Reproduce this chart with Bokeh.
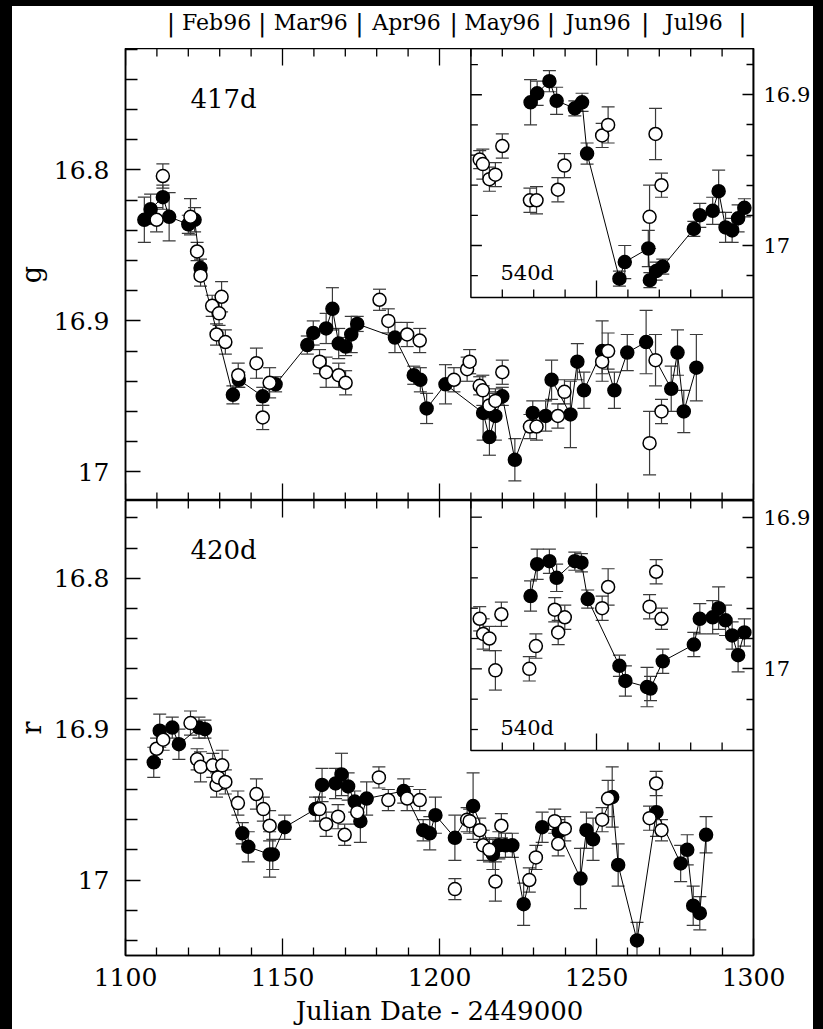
import numpy as np
from bokeh.plotting import figure
from bokeh.models import (Range1d, LinearAxis, FixedTicker, Whisker, ColumnDataSource,
                          BoxAnnotation, Label, TeeHead, PrintfTickFormatter)
from bokeh.layouts import column
from bokeh.embed import file_html
from bokeh.resources import INLINE
from bokeh.core.properties import value

# ---------------- data ----------------
months = ["Feb96", "Mar96", "Apr96", "May96", "Jun96", "Jul96"]
month_edges = [1114.5, 1143.5, 1174.5, 1204.5, 1235.5, 1265.5, 1296.5]

# g band: image B (filled), shifted by 417 d
gB_jd = [1106.0, 1108.0, 1111.9, 1113.9, 1120.0, 1122.0, 1123.9, 1134.2, 1136.1, 1143.7,
         1147.8, 1157.9, 1159.8, 1163.9, 1165.9, 1167.9, 1170.1, 1171.9, 1173.8, 1185.8,
         1191.8, 1193.9, 1195.9, 1201.9, 1213.9, 1215.9, 1217.8, 1220.0, 1224.0, 1229.7,
         1233.8, 1235.7, 1241.7, 1243.9, 1246.0, 1251.8, 1255.7, 1259.8, 1265.8, 1273.8,
         1275.8, 1277.8, 1281.8]
gB_mag = [16.833, 16.826, 16.818, 16.831, 16.836, 16.833, 16.865, 16.949, 16.939, 16.950,
          16.942, 16.916, 16.908, 16.905, 16.892, 16.915, 16.917, 16.909, 16.902, 16.911,
          16.936, 16.939, 16.958, 16.942, 16.961, 16.977, 16.963, 16.950, 16.992, 16.961,
          16.963, 16.939, 16.962, 16.927, 16.946, 16.920, 16.946, 16.921, 16.914, 16.945,
          16.921, 16.960, 16.931]
gB_err = [0.015, 0.010, 0.008, 0.016, 0.006, 0.008, 0.006, 0.006, 0.005, 0.006,
          0.005, 0.006, 0.008, 0.010, 0.014, 0.010, 0.006, 0.012, 0.005, 0.010,
          0.006, 0.008, 0.010, 0.013, 0.018, 0.012, 0.016, 0.006, 0.014, 0.008,
          0.010, 0.013, 0.022, 0.012, 0.012, 0.020, 0.012, 0.012, 0.021, 0.015,
          0.015, 0.014, 0.022]

# g band: image A (open)
gA_jd = [1109.9, 1111.9, 1120.7, 1122.8, 1123.9, 1127.6, 1129.0, 1129.8, 1130.6, 1131.8,
         1135.9, 1141.7, 1143.7, 1145.9, 1161.8, 1163.9, 1167.9, 1170.1, 1180.9, 1183.7,
         1189.7, 1193.7, 1204.6, 1208.8, 1209.6, 1212.8, 1213.8, 1215.9, 1217.8, 1220.0,
         1228.8, 1230.9, 1237.7, 1239.8, 1251.8, 1253.7, 1266.9, 1268.8, 1270.7]
gA_mag = [16.833, 16.804, 16.831, 16.854, 16.870, 16.890, 16.909, 16.895, 16.884, 16.914,
          16.936, 16.928, 16.964, 16.941, 16.927, 16.934, 16.936, 16.941, 16.886, 16.900,
          16.909, 16.913, 16.939, 16.932, 16.927, 16.943, 16.946, 16.956, 16.953, 16.934,
          16.970, 16.970, 16.963, 16.947, 16.927, 16.920, 16.981, 16.926, 16.960]
gA_err = [0.008, 0.008, 0.012, 0.006, 0.007, 0.007, 0.007, 0.008, 0.010, 0.008,
          0.008, 0.010, 0.008, 0.010, 0.008, 0.010, 0.008, 0.008, 0.007, 0.008,
          0.008, 0.008, 0.008, 0.008, 0.008, 0.006, 0.010, 0.008, 0.008, 0.008,
          0.008, 0.009, 0.008, 0.008, 0.008, 0.012, 0.021, 0.017, 0.008]

# g band inset: image B shifted by 540 d
gB540_jd = [1229.0, 1231.1, 1235.0, 1237.3, 1243.1, 1245.4, 1247.0, 1257.3, 1259.0, 1266.5,
            1267.0, 1269.0, 1271.1, 1281.0, 1282.9, 1287.0, 1288.9, 1291.1, 1293.2, 1295.1,
            1297.1]
gB540_mag = [16.905, 16.899, 16.891, 16.904, 16.909, 16.905, 16.939, 17.022, 17.011, 17.002,
             17.023, 17.017, 17.014, 16.989, 16.980, 16.977, 16.964, 16.988, 16.990, 16.982,
             16.975]
gB540_err = [0.015, 0.008, 0.007, 0.009, 0.005, 0.006, 0.007, 0.005, 0.011, 0.012,
             0.005, 0.006, 0.005, 0.005, 0.008, 0.009, 0.014, 0.010, 0.008, 0.009,
             0.006]

# r band: image B (filled), shifted by 420 d
rB_jd = [1109.0, 1110.9, 1114.9, 1117.0, 1123.4, 1125.3, 1137.2, 1139.1, 1145.9, 1146.9,
         1150.7, 1160.5, 1162.6, 1166.9, 1168.8, 1170.9, 1173.0, 1174.8, 1176.8, 1188.6,
         1194.8, 1196.9, 1198.7, 1204.9, 1210.7, 1217.0, 1218.9, 1221.0, 1223.2, 1226.8,
         1232.7, 1238.0, 1244.9, 1246.8, 1248.9, 1255.0, 1256.9, 1262.9, 1269.1, 1276.8,
         1278.9, 1280.8, 1282.9, 1284.9]
rB_mag = [16.922, 16.901, 16.899, 16.910, 16.899, 16.900, 16.969, 16.978, 16.983, 16.983,
          16.965, 16.953, 16.937, 16.936, 16.930, 16.938, 16.948, 16.961, 16.946, 16.941,
          16.967, 16.969, 16.957, 16.972, 16.951, 16.983, 16.977, 16.977, 16.977, 17.016,
          16.965, 16.968, 16.999, 16.967, 16.973, 16.945, 16.990, 17.040, 16.955, 16.989,
          16.980, 17.017, 17.022, 16.970]
rB_err = [0.010, 0.011, 0.007, 0.010, 0.007, 0.006, 0.007, 0.010, 0.015, 0.010,
          0.008, 0.008, 0.011, 0.010, 0.014, 0.009, 0.007, 0.014, 0.011, 0.008,
          0.007, 0.011, 0.012, 0.015, 0.022, 0.010, 0.009, 0.008, 0.008, 0.014,
          0.010, 0.008, 0.020, 0.012, 0.014, 0.020, 0.014, 0.012, 0.016, 0.012,
          0.010, 0.013, 0.011, 0.012]

# r band: image A (open)
rA_jd = [1109.9, 1112.0, 1120.7, 1122.8, 1123.9, 1127.8, 1129.0, 1129.5, 1130.8, 1131.8,
         1135.8, 1141.7, 1143.9, 1145.9, 1161.8, 1163.9, 1167.7, 1169.8, 1173.8, 1180.7,
         1183.7, 1189.7, 1193.7, 1204.9, 1208.8, 1209.6, 1212.8, 1213.9, 1215.9, 1217.8,
         1219.7, 1228.6, 1230.7, 1236.7, 1237.8, 1239.9, 1251.8, 1253.7, 1266.9, 1269.0,
         1270.7]
rA_mag = [16.913, 16.907, 16.896, 16.920, 16.925, 16.924, 16.937, 16.932, 16.924, 16.935,
          16.949, 16.943, 16.953, 16.964, 16.953, 16.963, 16.958, 16.970, 16.955, 16.932,
          16.947, 16.946, 16.947, 17.006, 16.960, 16.961, 16.967, 16.977, 16.980, 17.001,
          16.964, 17.000, 16.985, 16.961, 16.976, 16.966, 16.960, 16.946, 16.959, 16.936,
          16.967]
rA_err = [0.007, 0.007, 0.008, 0.007, 0.010, 0.008, 0.008, 0.008, 0.010, 0.008,
          0.008, 0.010, 0.008, 0.010, 0.008, 0.008, 0.008, 0.007, 0.008, 0.007,
          0.007, 0.008, 0.007, 0.007, 0.008, 0.008, 0.008, 0.010, 0.008, 0.013,
          0.008, 0.008, 0.008, 0.008, 0.008, 0.008, 0.008, 0.012, 0.008, 0.008,
          0.007]

# r band inset: image B shifted by 540 d
rB540_jd = [1229.0, 1231.1, 1235.0, 1237.3, 1243.1, 1245.2, 1247.2, 1257.3, 1259.2, 1266.1,
            1267.2, 1271.1, 1281.0, 1282.9, 1287.0, 1288.9, 1291.1, 1293.2, 1295.1, 1297.1]
rB540_mag = [16.952, 16.931, 16.929, 16.940, 16.929, 16.930, 16.954, 16.998, 17.008, 17.012,
             17.013, 16.995, 16.984, 16.967, 16.966, 16.960, 16.968, 16.978, 16.991, 16.976]
rB540_err = [0.010, 0.010, 0.008, 0.009, 0.006, 0.006, 0.006, 0.007, 0.010, 0.013,
             0.008, 0.008, 0.008, 0.010, 0.011, 0.014, 0.010, 0.009, 0.011, 0.009]

x_major = [1100, 1150, 1200, 1250, 1300]
x_minor = [t for t in range(1100, 1301, 10) if t % 50 != 0]
y_major = [16.8, 16.9, 17.0]
inset_x0 = 1210

# ---------------- style ----------------
FONT = "DejaVu Serif"
FW = 628
LB = 113
ERR = "#3a3a3a"
xr = Range1d(1100, 1300)


def style_axis(ax, major_in, minor_in, size, standoff):
    ax.axis_line_color = "black"
    ax.axis_line_width = 1.5
    ax.major_tick_in = major_in
    ax.major_tick_out = 0
    ax.minor_tick_in = minor_in
    ax.minor_tick_out = 0
    ax.major_tick_line_color = "black"
    ax.minor_tick_line_color = "black"
    ax.major_tick_line_width = 1.3
    ax.minor_tick_line_width = 1.3
    ax.major_label_text_font = FONT
    ax.major_label_text_color = "black"
    ax.major_label_standoff = standoff
    ax.major_label_text_font_size = size


def add_series(p, jd, mag, err, filled, rng="default", connect=False):
    src = ColumnDataSource(dict(x=jd, y=mag,
                                lo=[m - e for m, e in zip(mag, err)],
                                hi=[m + e for m, e in zip(mag, err)]))
    p.add_layout(Whisker(source=src, base="x", lower="lo", upper="hi", dimension="height",
                         line_color=ERR, line_width=1.2, y_range_name=rng,
                         lower_head=TeeHead(size=13, line_color=ERR, line_width=1.2),
                         upper_head=TeeHead(size=13, line_color=ERR, line_width=1.2)))
    if connect:
        p.line("x", "y", source=src, line_color="black", line_width=1, y_range_name=rng)
    p.scatter("x", "y", source=src, size=13, marker="circle",
              fill_color="black" if filled else "white",
              line_color="black", line_width=1.5, y_range_name=rng)


def edge_ticks(p, y_edge, direction, px_mag):
    # ticks of the x scale drawn on a horizontal frame edge (no labels)
    tx = x_major + x_minor
    p.segment(x0=tx, y0=[y_edge] * len(tx), x1=tx,
              y1=[y_edge + direction * (17 if t in x_major else 8) / px_mag for t in tx],
              line_color="black", line_width=1.3)


def panel(ybot, ytop, ins_bot, ins_top, ins_box_bot, frame_h, B, A, B540,
          ylab, delay_txt, delay_pos, ins_lbl_pos, xlabels):
    p = figure(frame_width=FW, frame_height=frame_h, x_range=xr,
               y_range=Range1d(ybot, ytop), output_backend="svg", toolbar_location=None,
               x_axis_location=("below" if xlabels else None),
               min_border_left=LB, min_border_right=60, min_border_top=0,
               min_border_bottom=(74 if xlabels else 0),
               background_fill_color="white", border_fill_color="white",
               outline_line_color="black", outline_line_width=1.5)
    p.extra_y_ranges = {"inset": Range1d(ins_bot, ins_top)}
    p.grid.visible = False
    px_main = frame_h / (ybot - ytop)

    if xlabels:
        xa = p.xaxis[0]
        xa.ticker = FixedTicker(ticks=x_major, minor_ticks=x_minor)
        style_axis(xa, 17, 8, "25px", 12)
        xa.axis_label = "Julian Date - 2449000"
        xa.axis_label_text_font = FONT
        xa.axis_label_text_font_size = "26px"
        xa.axis_label_text_font_style = "normal"
        xa.axis_label_text_color = "black"
        xa.axis_label_standoff = 7
    else:
        edge_ticks(p, ybot, -1, px_main)
    edge_ticks(p, ytop, +1, px_main)

    # left axis
    ya = p.yaxis[0]
    ym = [v for v in np.round(np.arange(16.70, 17.08, 0.02), 2)
          if ytop <= v <= ybot and v not in y_major]
    ya.ticker = FixedTicker(ticks=y_major, minor_ticks=ym)
    ya.formatter = PrintfTickFormatter(format="%g")
    style_axis(ya, 15, 12, "25px", 16)
    ya.axis_label = ylab
    ya.axis_label_text_font = FONT
    ya.axis_label_text_font_size = "27px"
    ya.axis_label_text_font_style = "normal"
    ya.axis_label_text_color = "black"
    ya.axis_label_standoff = 4

    # inset: right axis
    im = [v for v in np.round(np.arange(16.86, 17.08, 0.02), 2)
          if ins_top < v < ins_box_bot and v not in y_major]
    ra = LinearAxis(y_range_name="inset",
                    ticker=FixedTicker(ticks=[16.9, 17.0], minor_ticks=im),
                    formatter=PrintfTickFormatter(format="%g"))
    style_axis(ra, 11, 7, "21px", 10)
    p.add_layout(ra, "right")

    # inset frame
    p.add_layout(BoxAnnotation(left=inset_x0, bottom=ins_box_bot, y_range_name="inset",
                               fill_alpha=0, line_color="black", line_alpha=1.0,
                               line_width=1.5))
    # inset inner ticks (left and bottom edges of the inset box)
    px_day = FW / (xr.end - xr.start)
    px_mag = frame_h / (ins_bot - ins_top)
    tx = [t for t in x_major + x_minor if inset_x0 < t < xr.end]
    p.segment(x0=tx, y0=[ins_box_bot] * len(tx), x1=tx,
              y1=[ins_box_bot - (17 if t in x_major else 8) / px_mag for t in tx],
              line_color="black", line_width=1.3, y_range_name="inset")
    ty = [16.9, 17.0] + im
    p.segment(x0=[inset_x0] * len(ty), y0=ty,
              x1=[inset_x0 + (11 if v in (16.9, 17.0) else 7) / px_day for v in ty], y1=ty,
              line_color="black", line_width=1.3, y_range_name="inset")

    # data
    add_series(p, *B, filled=True, connect=True)
    add_series(p, *A, filled=False)
    add_series(p, *B540, filled=True, rng="inset", connect=True)
    Ain = [i for i, t in enumerate(A[0]) if t > inset_x0]
    add_series(p, [A[0][i] for i in Ain], [A[1][i] for i in Ain], [A[2][i] for i in Ain],
               filled=False, rng="inset")

    p.add_layout(Label(x=delay_pos[0], y=delay_pos[1], text=delay_txt, text_font=FONT,
                       text_font_size="26px", text_baseline="middle", text_align="left",
                       text_color="black"))
    p.add_layout(Label(x=ins_lbl_pos[0], y=ins_lbl_pos[1], text="540d", text_font=FONT,
                       text_font_size="21px", text_baseline="middle", text_align="left",
                       text_color="black", y_range_name="inset"))
    return p


# header with the months
HH = 42
hdr = figure(frame_width=FW, frame_height=HH, x_range=xr, y_range=Range1d(0, 1),
             output_backend="svg", toolbar_location=None, min_border_left=LB,
             min_border_right=60, min_border_top=0, min_border_bottom=0,
             x_axis_location=None, y_axis_location=None, outline_line_color=None,
             background_fill_color="white", border_fill_color="white")
hdr.grid.visible = False
mids = [(a + b) / 2 for a, b in zip(month_edges[:-1], month_edges[1:])]
hdr.text(x=mids, y=[0.62] * len(mids), text=months, text_font=value(FONT),
         text_font_size=value("22px"), text_align="center", text_baseline="middle",
         text_color="black")
hdr.text(x=month_edges, y=[0.62] * len(month_edges), text=["|"] * len(month_edges),
         text_font=value(FONT), text_font_size=value("25px"), text_align="center",
         text_baseline="middle", text_color="black")

top = panel(17.019, 16.7195, 17.1692, 16.8693, 17.0345, 452,
            (gB_jd, gB_mag, gB_err), (gA_jd, gA_mag, gA_err), (gB540_jd, gB540_mag, gB540_err),
            "g", "417d", (1120.7, 16.753), (1219.4, 17.018), False)
bot = panel(17.05, 16.7485, 17.189, 16.889, 17.0539, 455,
            (rB_jd, rB_mag, rB_err), (rA_jd, rA_mag, rA_err), (rB540_jd, rB540_mag, rB540_err),
            "r", "420d", (1120.7, 16.781), (1219.4, 17.039), True)

root = column(hdr, top, bot, margin=(6, 0, 0, 12), styles={"background-color": "white"})
html = file_html(root, INLINE, title="light curves")
html = html.replace("</head>", "<style>html,body{background:#000;overflow:hidden}</style></head>", 1)
open("out.html", "w").write(html)
